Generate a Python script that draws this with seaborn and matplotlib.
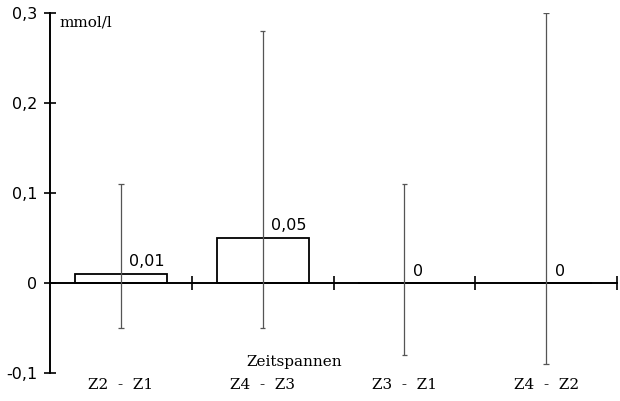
import matplotlib
matplotlib.use("Agg")
import matplotlib.pyplot as plt
import seaborn as sns
import pandas as pd

categories = ["Z2  -  Z1", "Z4  -  Z3", "Z3  -  Z1", "Z4  -  Z2"]
values = [0.01, 0.05, 0.0, 0.0]
value_labels = ["0,01", "0,05", "0", "0"]
err_low = [-0.05, -0.05, -0.08, -0.09]
err_high = [0.11, 0.28, 0.11, 0.30]
yticks = [-0.1, 0.0, 0.1, 0.2, 0.3]
ytick_labels = ["-0,1", "0", "0,1", "0,2", "0,3"]

sns.set_theme(style="white")
plt.rcParams["font.family"] = ["DejaVu Sans"]
plt.rcParams["text.color"] = "black"
plt.rcParams["ytick.color"] = "black"
plt.rcParams["xtick.color"] = "black"

df = pd.DataFrame({"cat": categories, "val": values})

fig = plt.figure(figsize=(6.2, 4.01), dpi=100)
ax = fig.add_axes([50 / 620, 28 / 401, 567 / 620, 360 / 401])

sns.barplot(data=df, x="cat", y="val", ax=ax, color="white",
            edgecolor="black", linewidth=1.3, width=0.65, saturation=1)

xs = list(range(len(categories)))
ax.vlines(xs, err_low, err_high, colors="#555555", linewidth=0.9, zorder=3)
ax.hlines(err_low + err_high, [x - 0.02 for x in xs] * 2, [x + 0.02 for x in xs] * 2,
          colors="#555555", linewidth=0.9, zorder=3)

for x, v, lab in zip(xs, values, value_labels):
    ax.text(x + 0.06, v + 0.005, lab, ha="left", va="bottom", fontsize=11.5,
            family="DejaVu Sans", color="black")

ax.set_xlim(-0.5, 3.5)
ax.set_ylim(-0.1, 0.3)

for s in ["top", "right"]:
    ax.spines[s].set_visible(False)
ax.spines["left"].set_linewidth(1.4)
ax.spines["left"].set_color("black")
ax.spines["bottom"].set_position(("data", 0))
ax.spines["bottom"].set_linewidth(1.4)
ax.spines["bottom"].set_color("black")

ax.set_yticks(yticks)
ax.set_yticklabels(ytick_labels, fontsize=11.5, color="black")
ax.tick_params(axis="y", direction="inout", length=8, width=1.2, left=True,
               pad=5, colors="black")

ax.set_xticks([0.5, 1.5, 2.5, 3.5])
ax.set_xticklabels([])
ax.tick_params(axis="x", direction="inout", length=10, width=1.2, bottom=True,
               colors="black")
ax.set_xlabel("")
ax.set_ylabel("")

for x, c in zip(xs, categories):
    ax.text(x, -0.033, c, transform=ax.get_xaxis_transform(), ha="center",
            va="center", fontsize=11, family="DejaVu Serif", color="black")

ax.text(1.22, -0.088, "Zeitspannen", ha="center", va="center", fontsize=11,
        family="DejaVu Serif", color="black")
ax.text(-0.43, 0.29, "mmol/l", ha="left", va="center", fontsize=11,
        family="DejaVu Serif", color="black")

fig.savefig("out.png", dpi=100)
